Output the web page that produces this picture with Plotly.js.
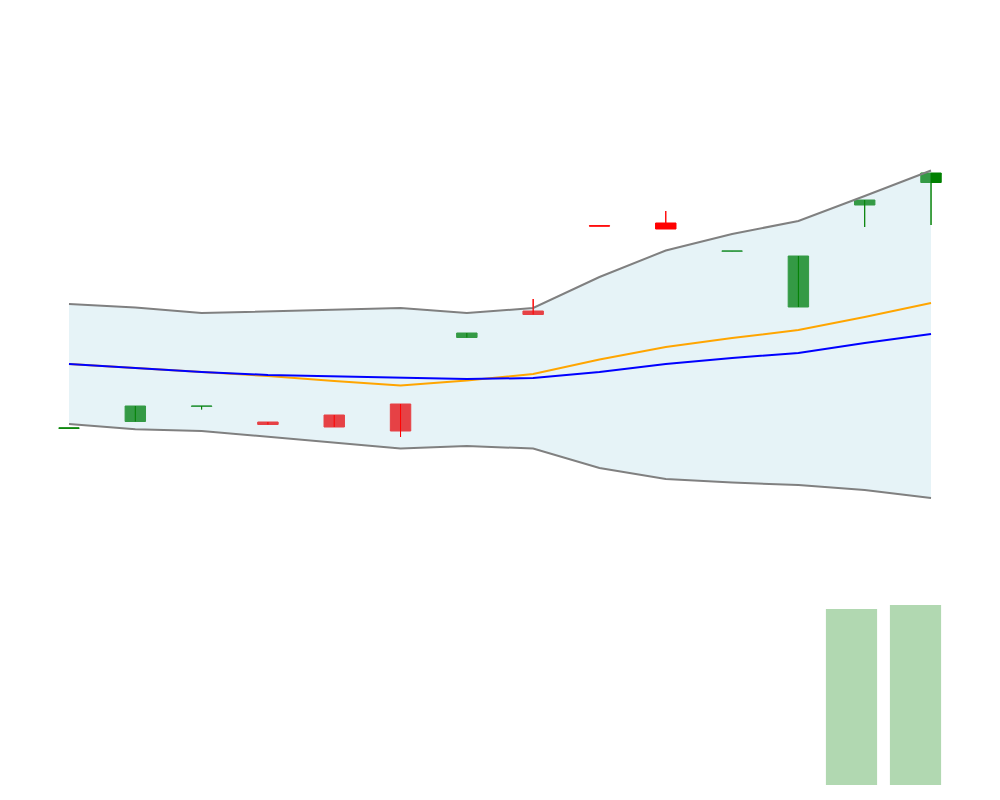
<!DOCTYPE html>
<html>
<head>
<meta charset="utf-8">
<script src="https://cdn.plot.ly/plotly-3.0.1.min.js"></script>
<style>html,body{margin:0;padding:0;background:#fff;}#chart{width:1000px;height:800px;}</style>
</head>
<body>
<div id="chart"></div>
<script>
// Trading days (category labels)
const dates = ['2024-03-01','2024-03-04','2024-03-05','2024-03-06','2024-03-07','2024-03-08','2024-03-11',
               '2024-03-12','2024-03-13','2024-03-14','2024-03-15','2024-03-18','2024-03-19','2024-03-20'];
// OHLC values
const openP  = [64.36, 65.7, 68.7, 65.6, 67.0, 69.2, 82.5, 87.8, 104.84, 105.4, 99.76, 88.6, 109.0, 113.5];
const highP  = [64.4,  68.8, 68.8, 65.6, 67.0, 69.2, 83.4, 90.2, 104.84, 107.8, 99.8,  98.8, 110.0, 115.4];
const lowP   = [64.36, 65.7, 68.1, 65.1, 64.6, 62.6, 82.5, 87.1, 104.8,  104.2, 99.76, 88.6, 104.6, 105.0];
const closeP = [64.4,  68.8, 68.8, 65.1, 64.6, 63.8, 83.4, 87.1, 104.8,  104.2, 99.8,  98.8, 110.0, 115.4];
// Bollinger bands and moving averages
const bbUpper  = [89.2, 88.5, 87.4, 87.74, 88.06, 88.4, 87.4, 88.4, 94.6, 99.9, 103.2, 105.8, 110.8, 115.9];
const bbLower  = [65.2, 64.14, 63.8, 62.6, 61.4, 60.3, 60.8, 60.3, 56.4, 54.2, 53.5, 53.0, 52.0, 50.4];
const bbMiddle = [77.2, 76.4, 75.6, 75.0, 74.7, 74.4, 74.2, 74.4, 75.6, 77.2, 78.4, 79.4, 81.4, 83.2];
const maFast   = [77.2, 76.4, 75.6, 74.8, 73.8, 72.9, 73.9, 75.2, 78.1, 80.6, 82.4, 84.0, 86.6, 89.4];
// Volume (only the last two sessions are visible)
const volume = [null, null, null, null, null, null, null, null, null, null, null, null, 7.82e6, 8.0e6];

// Wick segments built from the OHLC arrays
function wicks(up) {
  const xs = [], ys = [];
  for (let i = 0; i < dates.length; i++) {
    const isUp = closeP[i] >= openP[i];
    if (isUp === up) { xs.push(dates[i], dates[i], null); ys.push(lowP[i], highP[i], null); }
  }
  return {xs, ys};
}
const wUp = wicks(true), wDn = wicks(false);

const traces = [
  {type:'candlestick', x:dates, open:openP, high:highP, low:lowP, close:closeP,
   xaxis:'x', yaxis:'y',
   increasing:{line:{color:'#008000', width:1}, fillcolor:'#008000'},
   decreasing:{line:{color:'#FF0000', width:1}, fillcolor:'#FF0000'}},
  {type:'scatter', mode:'lines', x:dates, y:bbUpper, line:{color:'gray', width:2}, xaxis:'x', yaxis:'y'},
  {type:'scatter', mode:'lines', x:dates, y:bbLower, line:{color:'gray', width:2}, fill:'tonexty',
   fillcolor:'rgba(173,216,230,0.3)', xaxis:'x', yaxis:'y'},
  {type:'scatter', mode:'lines', x:wUp.xs, y:wUp.ys, line:{color:'#008000', width:1}, xaxis:'x', yaxis:'y', connectgaps:false},
  {type:'scatter', mode:'lines', x:wDn.xs, y:wDn.ys, line:{color:'#FF0000', width:1}, xaxis:'x', yaxis:'y', connectgaps:false},
  {type:'scatter', mode:'lines', x:dates, y:maFast, line:{color:'orange', width:2}, xaxis:'x', yaxis:'y'},
  {type:'scatter', mode:'lines', x:dates, y:bbMiddle, line:{color:'blue', width:2}, xaxis:'x', yaxis:'y'},
  {type:'bar', x:dates, y:volume, marker:{color:'green'}, opacity:0.3, xaxis:'x2', yaxis:'y2'}
];

const hidden = {showticklabels:false, showgrid:false, zeroline:false, showline:false, ticks:'', title:{text:''}};

const layout = {
  width:1000, height:800,
  margin:{l:0, r:0, t:0, b:0},
  paper_bgcolor:'white', plot_bgcolor:'rgba(0,0,0,0)',
  showlegend:false,
  boxgap:0.56, boxgroupgap:0.3, bargap:0.2,
  xaxis:Object.assign({type:'category', domain:[0,1], range:[-1.0406, 14.0405], anchor:'y', rangeslider:{visible:false}}, hidden),
  yaxis:Object.assign({domain:[0,1], range:[-10,150], anchor:'x'}, hidden),
  xaxis2:Object.assign({type:'category', domain:[0,1], range:[-1.3047, 14.3203], anchor:'y2'}, hidden),
  yaxis2:Object.assign({domain:[0.01875,0.3], range:[0,1e7], anchor:'x2'}, hidden)
};

Plotly.newPlot('chart', traces, layout, {displayModeBar:false});
</script>
</body>
</html>
